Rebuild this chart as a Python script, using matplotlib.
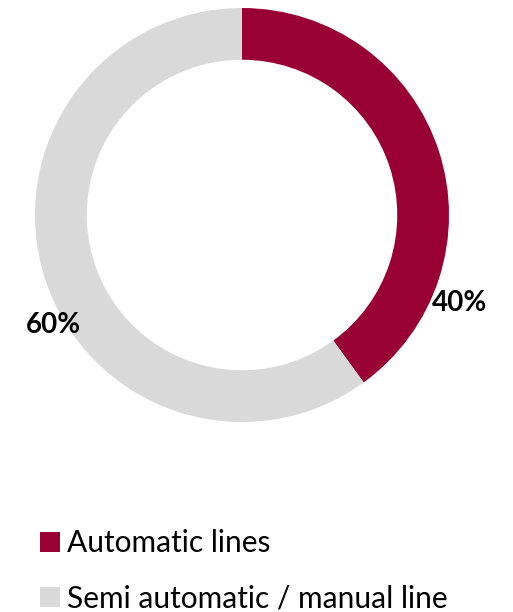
import matplotlib.pyplot as plt
from matplotlib.lines import Line2D

categories = ["Automatic lines", "Semi automatic / manual line"]
shares = [40, 60]
colors = ["#990033", "#D9D9D9"]

plt.rcParams['font.family'] = ['Lato', 'DejaVu Sans']

W, H = 513, 612
fig = plt.figure(figsize=(W / 100, H / 100), dpi=100)

# donut centre and radius in pixels (from top-left)
cx, cy, r = 242, 215, 207
ax = fig.add_axes([(cx - r) / W, (H - cy - r) / H, 2 * r / W, 2 * r / H])
ax.pie(shares, colors=colors, startangle=90, counterclock=False,
       radius=1, wedgeprops=dict(width=0.25, linewidth=0))
ax.set_xlim(-1, 1)
ax.set_ylim(-1, 1)
ax.set_aspect('equal')
ax.axis('off')

label_pos = [(460, 303), (53, 325)]
for val, (px, py) in zip(shares, label_pos):
    ax.text((px - cx) / r, (cy - py) / r, f"{val}%", ha='center', va='center',
            fontsize=20, fontweight='bold', color='black')

handles = [Line2D([], [], marker='s', linestyle='none', markersize=14.5,
                  markerfacecolor=c, markeredgewidth=0) for c in colors]
fig.legend(handles, categories, loc='upper left',
           bbox_to_anchor=(38 / W, 1 - 529 / H), frameon=False,
           fontsize=21.5, handlelength=0.8, handletextpad=0.17,
           labelspacing=0.91, borderpad=0, borderaxespad=0)

fig.savefig("out.png", dpi=100)
